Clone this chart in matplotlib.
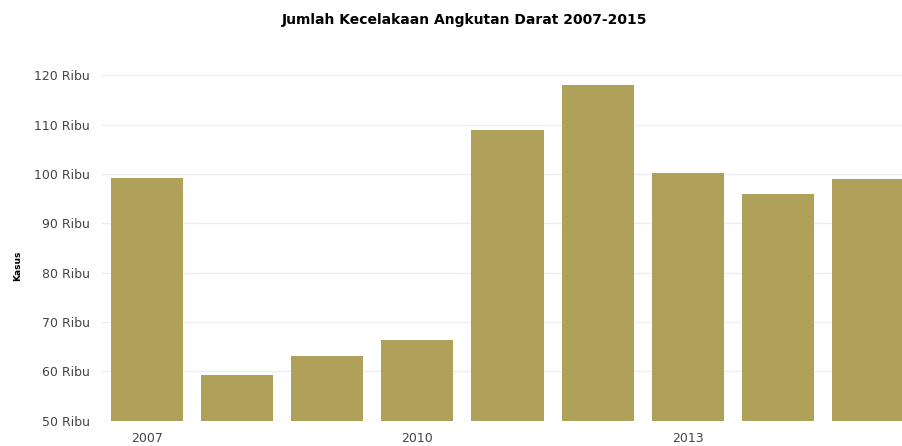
import matplotlib.pyplot as plt
from matplotlib.ticker import FuncFormatter

# Data (kasus)
years = [2007, 2008, 2009, 2010, 2011, 2012, 2013, 2014, 2015]
kasus = [99100, 59200, 63100, 66300, 108900, 118050, 100300, 95900, 99000]
tick_years = [2007, 2010, 2013]

fig = plt.figure(figsize=(9.02, 4.46), dpi=100)
# axes runs a bit past the right edge, as in the cropped screenshot
ax = fig.add_axes([102 / 902, 25.5 / 446, 811 / 902, 369.75 / 446])

ax.bar(years, kasus, width=0.8, color='#afa05a', zorder=2)

ax.set_xlim(2006.5, 2015.5)
ax.set_ylim(50000, 125000)
ax.set_yticks(range(50000, 120001, 10000))
ax.yaxis.set_major_formatter(FuncFormatter(lambda v, p: '%d Ribu' % (v / 1000)))
ax.set_xticks(tick_years)

ax.grid(axis='y', color='#eeeeee', linewidth=1, zorder=0)
for s in ax.spines.values():
    s.set_visible(False)
ax.tick_params(axis='both', length=0, labelsize=9, labelcolor='#444444')
ax.tick_params(axis='y', pad=9)
ax.tick_params(axis='x', pad=8)

fig.text(18 / 902, 0.405, 'Kasus', rotation=90, fontsize=6.5, fontweight='bold',
         ha='center', va='center')
fig.text(465 / 902, 1 - 20 / 446, 'Jumlah Kecelakaan Angkutan Darat 2007-2015',
         fontsize=10, fontweight='bold', ha='center', va='center')

fig.savefig('out.png', dpi=100)
